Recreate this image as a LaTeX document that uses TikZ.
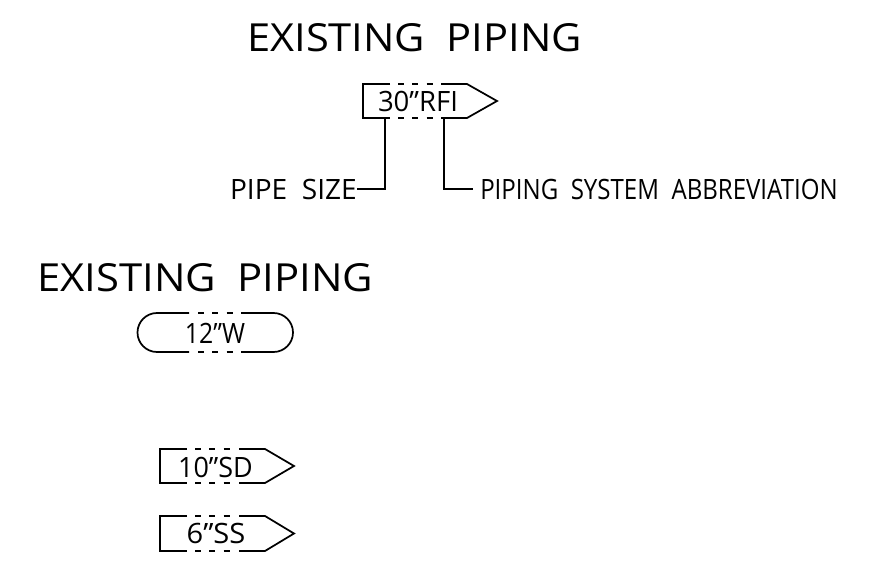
\documentclass[tikz,border=0pt]{standalone}
\usepackage{fontspec}
\usepackage{graphicx}
\setmainfont{Open Sans}
\newcommand{\fitw}[2]{\resizebox{#1pt}{\height}{#2}}
\tikzset{
  px/.style={x=0.75pt,y=-0.75pt},
  cad/.style={line width=1.3pt,black,line cap=butt,line join=miter},
  dsh/.style={line width=1.3pt,black,dash pattern=on 4.5pt off 6.2pt},
  big/.style={inner sep=0pt,font=\fontsize{29}{29}\selectfont},
  lab/.style={inner sep=0pt,font=\fontsize{21}{21}\selectfont},
  tagt/.style={inner sep=0pt,font=\fontsize{21}{21}\selectfont},
}
\begin{document}
\begin{tikzpicture}[px]
\useasboundingbox (0,0) rectangle (883,571);
\node[big,anchor=west] (t1) at (247,38) {\fitw{251}{EXISTING\ \ PIPING}};
\node[big,anchor=west] (t2) at (37,278) {\fitw{252}{EXISTING\ \ PIPING}};
% tag 1
\coordinate (a1) at (385,118); \coordinate (b1) at (444,118);
\draw[cad] (390,84) -- (363,84) -- (363,118) -- (390,118);
\draw[cad] (441,84) -- (467,84) -- (497,101) -- (467,118) -- (441,118);
\draw[dsh] (398,84) -- (433,84); \draw[dsh] (398,118) -- (433,118);
\node[tagt] (n1) at (418,101.5) {\fitw{60}{30”RFI}};
\node[lab,anchor=east] (ps) at (357,189) {\fitw{95}{PIPE\ \ SIZE}};
\node[lab,anchor=west] (psa) at (480,189) {\fitw{268}{PIPING\ \ SYSTEM\ \ ABBREVIATION}};
\coordinate (ps2) at (473,189);
\draw[cad] (a1) |- (ps.east);
\draw[cad] (b1) |- (ps2);
% pill
\draw[cad] (189,313) -- (157,313) arc[start angle=-90,end angle=-270,radius=19.5] -- (189,352);
\draw[cad] (241,313) -- (273.5,313) arc[start angle=-90,end angle=90,radius=19.5] -- (241,352);
\draw[dsh] (198,313) -- (236,313); \draw[dsh] (198,352) -- (236,352);
\node[tagt] (n2) at (215,333) {\fitw{45}{12”W}};
% tag 3
\draw[cad] (187,449) -- (160,449) -- (160,483) -- (187,483);
\draw[cad] (239,449) -- (265,449) -- (294,466) -- (265,483) -- (239,483);
\draw[dsh] (195,449) -- (231,449); \draw[dsh] (195,483) -- (231,483);
\node[tagt] (n3) at (215.5,467) {\fitw{56}{10”SD}};
% tag 4
\draw[cad] (187,516) -- (160,516) -- (160,551) -- (187,551);
\draw[cad] (239,516) -- (265,516) -- (294,533.5) -- (265,551) -- (239,551);
\draw[dsh] (195,516) -- (231,516); \draw[dsh] (195,551) -- (231,551);
\node[tagt] (n4) at (216,533.5) {\fitw{44}{6”SS}};
\end{tikzpicture}
\end{document}
